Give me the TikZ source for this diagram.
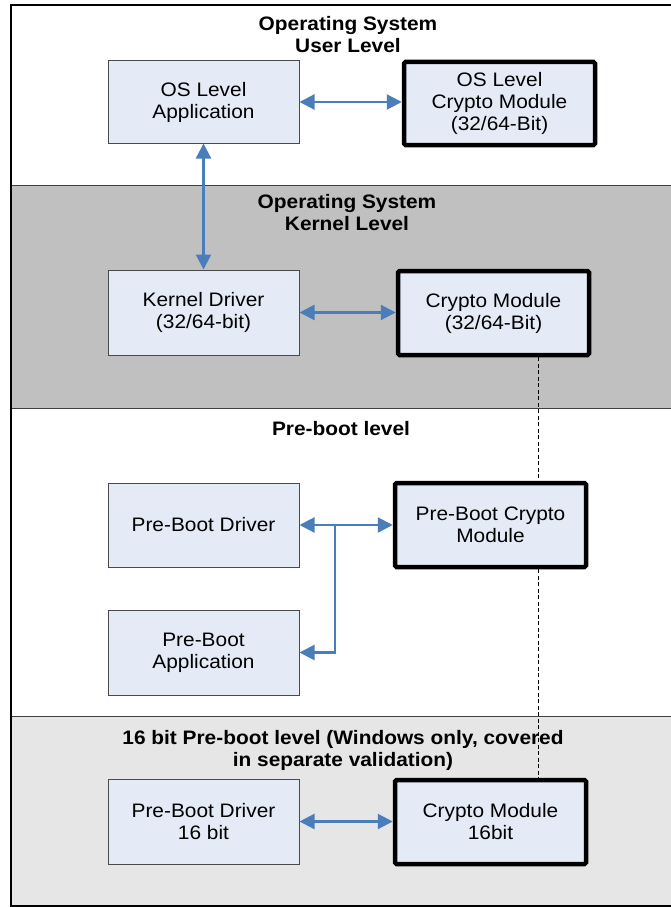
\documentclass[tikz,border=0pt]{standalone}
\usepackage{fontspec}
\setmainfont{Liberation Sans}[FakeStretch=1.07]
\usetikzlibrary{arrows.meta}
\definecolor{boxfill}{HTML}{E5EBF6}
\definecolor{boxline}{HTML}{4A4A4A}
\definecolor{arrowblue}{HTML}{4A7EBB}
\definecolor{darkband}{HTML}{C0C0C0}
\definecolor{lightband}{HTML}{E6E6E6}
\definecolor{sepline}{HTML}{404040}
\tikzset{
  x=1pt, y=-1pt,
  txt/.style={font=\fontsize{19.5}{22}\selectfont, align=center, inner sep=0pt},
  ttl/.style={font=\fontsize{19.5}{22}\selectfont\bfseries, align=center, inner sep=0pt},
  plainbox/.style={txt, draw=boxline, line width=1pt, fill=boxfill, minimum width=191pt, minimum height=84pt},
  modbox/.style={txt, draw=black, line width=4.5pt, fill=boxfill, rounded corners=1.5pt, minimum width=191pt, minimum height=84pt},
  tip/.tip={Triangle[length=15pt,width=15pt]},
  biarrow/.style={draw=arrowblue, line width=2.2pt, tip-tip},
  onearrow/.style={draw=arrowblue, line width=2.2pt, -tip},
  sep/.style={draw=sepline, line width=1pt},
  dashline/.style={draw=black, line width=1pt, dash pattern=on 4pt off 2.5pt}
}
\begin{document}
\begin{tikzpicture}
\useasboundingbox (0,0) rectangle (671,907);
% background bands
\fill[white] (0,0) rectangle (671,907);
\fill[darkband] (11,185) rectangle (671,408);
\fill[lightband] (11,716) rectangle (671,906);
\draw[sep] (11,185) -- (671,185);
\draw[sep] (11,408) -- (671,408);
\draw[sep] (11,716) -- (671,716);
% outer frame
\draw[black, line width=2.2pt] (671,5) -- (11,5) -- (11,906) -- (671,906);

% titles
\node[ttl] (t1) at (348,35) {Operating System\\User Level};
\node[ttl] (t2) at (347,213) {Operating System\\Kernel Level};
\node[ttl] (t3) at (341,429) {Pre-boot level};
\node[ttl] (t4) at (343,750) {16 bit Pre-boot level (Windows only, covered\\in separate validation)};

% boxes
\node[plainbox, minimum height=82pt] (app) at (203.5,102) {OS Level\\Application};
\node[modbox, minimum height=83pt] (oscm) at (499.5,103.5) {OS Level\\Crypto Module\\(32/64-Bit)};
\node[plainbox, minimum height=85pt] (kd) at (203.5,312.5) {Kernel Driver\\(32/64-bit)};
\node[modbox] (cm) at (493.5,313) {Crypto Module\\(32/64-Bit)};
\node[plainbox] (pbd) at (203.5,525) {Pre-Boot Driver};
\node[modbox] (pbcm) at (490.5,525) {Pre-Boot Crypto\\Module};
\node[plainbox, minimum height=85pt] (pba) at (203.5,652.5) {Pre-Boot\\Application};
\node[plainbox, minimum height=85pt] (pbd16) at (203.5,821.5) {Pre-Boot Driver\\16 bit};
\node[modbox] (cm16) at (490.5,822) {Crypto Module\\16bit};

% dashed link
\coordinate (dx) at (538.5,0);
\draw[dashline] (cm.south -| dx) -- (pbcm.north -| dx);
\draw[dashline] (pbcm.south -| dx) -- (cm16.north -| dx);

% connectors
\draw[biarrow] (app.east) -- (app.east -| oscm.west);
\draw[biarrow] (app.south) -- (kd.north);
\draw[biarrow] (kd.east) -- (kd.east -| cm.west);
\draw[biarrow] (pbd.east) -- (pbcm.west);
\coordinate (br) at (335,525);
\draw[onearrow] (br) |- (pba.east);
\draw[biarrow] (pbd16.east) -- (pbd16.east -| cm16.west);
\end{tikzpicture}
\end{document}
